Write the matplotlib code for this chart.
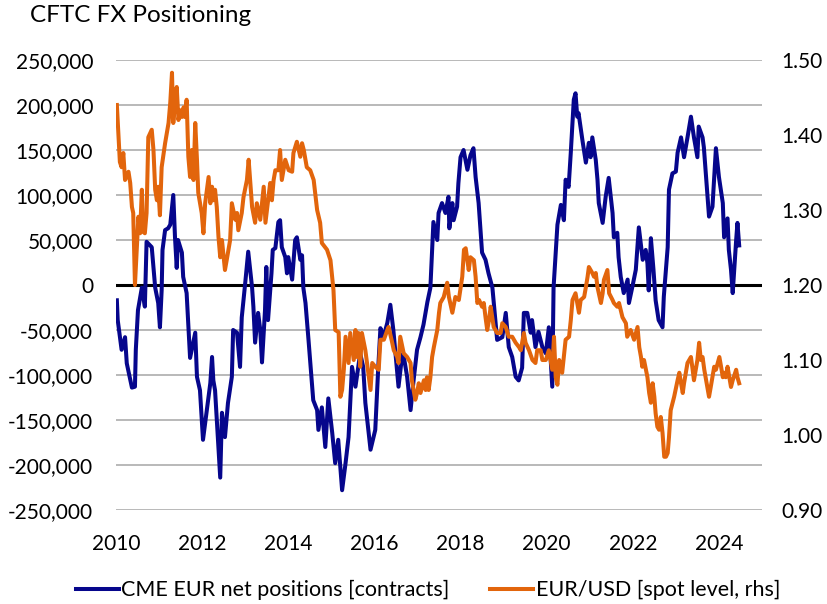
import matplotlib.pyplot as plt
import numpy as np

plt.rcParams["font.family"] = ["Lato", "DejaVu Sans"]

BLUE = "#06068C"
ORANGE = "#E2650C"

# CME EUR net positions (thousand contracts)
pos_years = [
    2010.02, 2010.04, 2010.13, 2010.21, 2010.25, 2010.37, 2010.44, 2010.46, 2010.51, 2010.60,
    2010.67, 2010.71, 2010.83, 2010.91, 2010.98, 2011.02, 2011.06, 2011.08, 2011.14, 2011.21,
    2011.26, 2011.33, 2011.37, 2011.41, 2011.44, 2011.53, 2011.56, 2011.64, 2011.72, 2011.84,
    2011.88, 2011.95, 2012.02, 2012.11, 2012.19, 2012.23, 2012.26, 2012.30, 2012.42, 2012.46,
    2012.53, 2012.60, 2012.69, 2012.72, 2012.81, 2012.88, 2012.92, 2013.00, 2013.07, 2013.16,
    2013.19, 2013.23, 2013.30, 2013.35, 2013.39, 2013.46, 2013.49, 2013.53, 2013.61, 2013.64,
    2013.70, 2013.77, 2013.81, 2013.85, 2013.93, 2013.97, 2014.00, 2014.09, 2014.16, 2014.20,
    2014.28, 2014.32, 2014.35, 2014.40, 2014.47, 2014.58, 2014.67, 2014.70, 2014.78, 2014.86,
    2014.93, 2015.02, 2015.09, 2015.16, 2015.25, 2015.33, 2015.40, 2015.48, 2015.56, 2015.67,
    2015.74, 2015.79, 2015.91, 2016.02, 2016.09, 2016.14, 2016.21, 2016.30, 2016.37, 2016.44,
    2016.56, 2016.64, 2016.67, 2016.76, 2016.84, 2016.91, 2016.99, 2017.07, 2017.14, 2017.23,
    2017.30, 2017.37, 2017.46, 2017.49, 2017.57, 2017.65, 2017.72, 2017.74, 2017.81, 2017.84,
    2017.92, 2017.95, 2018.00, 2018.07, 2018.16, 2018.23, 2018.30, 2018.35, 2018.42, 2018.50,
    2018.58, 2018.65, 2018.74, 2018.85, 2018.97, 2019.05, 2019.12, 2019.20, 2019.28, 2019.35,
    2019.43, 2019.47, 2019.55, 2019.63, 2019.66, 2019.74, 2019.81, 2019.90, 2019.98, 2020.05,
    2020.13, 2020.16, 2020.25, 2020.33, 2020.40, 2020.44, 2020.51, 2020.56, 2020.63, 2020.67,
    2020.71, 2020.74, 2020.83, 2020.91, 2020.98, 2021.02, 2021.06, 2021.14, 2021.18, 2021.21,
    2021.30, 2021.37, 2021.44, 2021.53, 2021.56, 2021.64, 2021.67, 2021.72, 2021.79, 2021.88,
    2021.91, 2021.99, 2022.07, 2022.14, 2022.23, 2022.30, 2022.34, 2022.37, 2022.42, 2022.48,
    2022.53, 2022.60, 2022.69, 2022.72, 2022.81, 2022.84, 2022.92, 2023.00, 2023.04, 2023.12,
    2023.19, 2023.27, 2023.35, 2023.42, 2023.50, 2023.53, 2023.62, 2023.65, 2023.74, 2023.77,
    2023.85, 2023.93, 2024.00, 2024.09, 2024.12, 2024.20, 2024.23, 2024.28, 2024.32, 2024.35,
    2024.40, 2024.43, 2024.47,
]
pos_k = [
    -17, -39, -72, -58, -87, -114, -113, -72, -28, -3,
    -24, 48, 42, -3, -20, -47, -6, 39, 61, 63,
    67, 100, 53, 19, 50, 36, 9, -9, -81, -53,
    -102, -117, -172, -139, -109, -80, -106, -117, -214, -142,
    -169, -131, -102, -50, -53, -91, -36, 2, 37, -3,
    -24, -64, -31, -50, -86, -28, 20, -39, 13, 39,
    41, 70, 72, 42, 31, 13, 31, 6, 50, 53,
    28, 33, -3, -20, -61, -128, -139, -161, -136, -180,
    -126, -164, -198, -172, -228, -198, -169, -91, -113, -76,
    -91, -131, -183, -161, -91, -48, -58, -42, -22, -50,
    -113, -80, -76, -102, -139, -106, -72, -58, -44, -19,
    -3, 70, 50, 80, 91, 80, 98, 63, 91, 72,
    87, 113, 142, 150, 128, 144, 152, 120, 91, 36,
    28, 13, -3, -61, -58, -31, -69, -80, -102, -106,
    -92, -31, -31, -53, -39, -69, -52, -69, -76, -47,
    -113, -3, 67, 89, 72, 117, 109, 147, 206, 213,
    187, 191, 161, 136, 158, 142, 164, 139, 117, 91,
    69, 98, 119, 80, 53, 58, 31, 9, -9, 6,
    -20, -2, 17, 64, 28, 39, 24, -6, 52, 17,
    -17, -39, -47, -13, 42, 106, 124, 126, 147, 164,
    142, 164, 187, 164, 142, 176, 164, 153, 94, 76,
    87, 152, 120, 91, 53, 74, 39, 17, -9, 13,
    50, 69, 44,
]

# EUR/USD spot level (rhs)
fx_years = [
    2010.02, 2010.09, 2010.13, 2010.17, 2010.21, 2010.29, 2010.33, 2010.37, 2010.40, 2010.44,
    2010.52, 2010.56, 2010.60, 2010.63, 2010.67, 2010.71, 2010.75, 2010.83, 2010.87, 2010.91,
    2010.95, 2010.98, 2011.02, 2011.06, 2011.14, 2011.22, 2011.26, 2011.30, 2011.33, 2011.37,
    2011.41, 2011.45, 2011.49, 2011.53, 2011.57, 2011.60, 2011.64, 2011.68, 2011.72, 2011.76,
    2011.80, 2011.84, 2011.88, 2011.91, 2011.99, 2012.03, 2012.07, 2012.15, 2012.19, 2012.23,
    2012.26, 2012.30, 2012.34, 2012.38, 2012.42, 2012.46, 2012.53, 2012.57, 2012.65, 2012.69,
    2012.77, 2012.81, 2012.84, 2012.92, 2012.96, 2013.04, 2013.08, 2013.12, 2013.16, 2013.23,
    2013.27, 2013.35, 2013.39, 2013.43, 2013.47, 2013.54, 2013.58, 2013.62, 2013.66, 2013.70,
    2013.77, 2013.81, 2013.85, 2013.93, 2014.01, 2014.09, 2014.12, 2014.20, 2014.28, 2014.32,
    2014.36, 2014.43, 2014.51, 2014.59, 2014.67, 2014.74, 2014.78, 2014.90, 2014.98, 2015.05,
    2015.09, 2015.17, 2015.21, 2015.25, 2015.29, 2015.33, 2015.40, 2015.44, 2015.52, 2015.56,
    2015.60, 2015.63, 2015.67, 2015.71, 2015.79, 2015.87, 2015.91, 2015.95, 2016.02, 2016.10,
    2016.14, 2016.22, 2016.30, 2016.33, 2016.41, 2016.45, 2016.53, 2016.56, 2016.60, 2016.68,
    2016.76, 2016.84, 2016.87, 2016.95, 2016.99, 2017.03, 2017.07, 2017.15, 2017.19, 2017.22,
    2017.26, 2017.30, 2017.34, 2017.38, 2017.46, 2017.50, 2017.53, 2017.61, 2017.69, 2017.73,
    2017.81, 2017.88, 2017.96, 2018.04, 2018.08, 2018.12, 2018.16, 2018.19, 2018.23, 2018.31,
    2018.35, 2018.39, 2018.43, 2018.50, 2018.54, 2018.58, 2018.62, 2018.66, 2018.70, 2018.77,
    2018.85, 2018.93, 2018.97, 2019.05, 2019.12, 2019.20, 2019.28, 2019.36, 2019.40, 2019.47,
    2019.51, 2019.59, 2019.67, 2019.74, 2019.78, 2019.86, 2019.90, 2019.98, 2020.05, 2020.13,
    2020.17, 2020.21, 2020.25, 2020.29, 2020.36, 2020.44, 2020.52, 2020.56, 2020.60, 2020.67,
    2020.71, 2020.75, 2020.79, 2020.87, 2020.91, 2020.95, 2020.98, 2021.06, 2021.10, 2021.14,
    2021.18, 2021.26, 2021.30, 2021.33, 2021.41, 2021.45, 2021.53, 2021.56, 2021.64, 2021.68,
    2021.76, 2021.84, 2021.87, 2021.95, 2022.03, 2022.11, 2022.15, 2022.19, 2022.22, 2022.26,
    2022.34, 2022.38, 2022.42, 2022.46, 2022.50, 2022.53, 2022.57, 2022.61, 2022.65, 2022.69,
    2022.73, 2022.77, 2022.81, 2022.84, 2022.88, 2022.96, 2023.04, 2023.08, 2023.12, 2023.16,
    2023.19, 2023.27, 2023.35, 2023.39, 2023.42, 2023.50, 2023.54, 2023.58, 2023.62, 2023.66,
    2023.73, 2023.77, 2023.81, 2023.89, 2023.93, 2024.01, 2024.05, 2024.09, 2024.12, 2024.16,
    2024.20, 2024.28, 2024.32, 2024.40, 2024.43, 2024.47,
]
fx_level = [
    1.440, 1.364, 1.357, 1.376, 1.340, 1.351, 1.336, 1.304, 1.296, 1.200,
    1.291, 1.269, 1.327, 1.271, 1.269, 1.296, 1.397, 1.407, 1.380, 1.327,
    1.313, 1.331, 1.293, 1.357, 1.389, 1.416, 1.443, 1.483, 1.416, 1.443,
    1.464, 1.420, 1.433, 1.424, 1.437, 1.424, 1.447, 1.371, 1.344, 1.380,
    1.340, 1.416, 1.367, 1.323, 1.296, 1.269, 1.309, 1.344, 1.309, 1.331,
    1.313, 1.327, 1.304, 1.264, 1.237, 1.260, 1.220, 1.233, 1.260, 1.309,
    1.287, 1.296, 1.273, 1.296, 1.317, 1.340, 1.367, 1.336, 1.304, 1.283,
    1.309, 1.287, 1.309, 1.331, 1.283, 1.317, 1.336, 1.313, 1.340, 1.353,
    1.353, 1.380, 1.340, 1.367, 1.353, 1.351, 1.376, 1.391, 1.371, 1.389,
    1.380, 1.357, 1.353, 1.340, 1.300, 1.283, 1.256, 1.247, 1.233, 1.193,
    1.140, 1.137, 1.051, 1.060, 1.087, 1.131, 1.096, 1.136, 1.100, 1.140,
    1.104, 1.136, 1.091, 1.136, 1.113, 1.077, 1.060, 1.096, 1.091, 1.087,
    1.127, 1.127, 1.140, 1.144, 1.124, 1.113, 1.104, 1.096, 1.131, 1.109,
    1.104, 1.096, 1.073, 1.047, 1.056, 1.069, 1.056, 1.073, 1.060, 1.077,
    1.060, 1.077, 1.104, 1.117, 1.140, 1.163, 1.176, 1.184, 1.203, 1.184,
    1.163, 1.184, 1.180, 1.211, 1.247, 1.249, 1.233, 1.220, 1.237, 1.233,
    1.211, 1.176, 1.180, 1.171, 1.176, 1.157, 1.140, 1.153, 1.171, 1.144,
    1.136, 1.136, 1.149, 1.144, 1.131, 1.131, 1.123, 1.117, 1.113, 1.136,
    1.123, 1.113, 1.100, 1.096, 1.113, 1.113, 1.100, 1.100, 1.113, 1.087,
    1.131, 1.077, 1.067, 1.100, 1.083, 1.127, 1.131, 1.153, 1.180, 1.189,
    1.176, 1.163, 1.180, 1.184, 1.197, 1.211, 1.224, 1.216, 1.211, 1.216,
    1.197, 1.176, 1.189, 1.207, 1.220, 1.189, 1.180, 1.176, 1.171, 1.176,
    1.157, 1.149, 1.131, 1.140, 1.127, 1.144, 1.117, 1.104, 1.091, 1.100,
    1.077, 1.056, 1.043, 1.069, 1.051, 1.029, 1.011, 1.007, 1.024, 1.003,
    0.971, 0.971, 0.976, 0.997, 1.033, 1.051, 1.073, 1.083, 1.069, 1.056,
    1.069, 1.096, 1.104, 1.087, 1.073, 1.100, 1.123, 1.100, 1.104, 1.087,
    1.064, 1.051, 1.064, 1.091, 1.087, 1.104, 1.091, 1.077, 1.083, 1.077,
    1.091, 1.064, 1.073, 1.087, 1.077, 1.069,
]

year_ticks = [2010, 2012, 2014, 2016, 2018, 2020, 2022, 2024]
left_ticks = list(range(-250000, 250001, 50000))
right_ticks = [0.90, 1.00, 1.10, 1.20, 1.30, 1.40, 1.50]

fig = plt.figure(figsize=(8.27, 6.04), dpi=100)
fig.patch.set_facecolor("white")
ax = fig.add_axes([116 / 827, 1 - 510 / 604, 646 / 827, 450 / 604])

ax.plot(pos_years, np.array(pos_k) * 1000, color=BLUE, lw=2.9, zorder=3,
        solid_joinstyle="round", label="CME EUR net positions [contracts]")
ax.axhline(0, color="black", lw=2.2, zorder=2)

ax.set_xlim(2010, 2025)
ax.set_ylim(-250000, 250000)
ax.set_xticks(year_ticks)
ax.set_xticklabels([str(y) for y in year_ticks])
ax.set_yticks(left_ticks)
ax.set_yticklabels([f"{v:,.0f}" for v in left_ticks])
ax.yaxis.grid(True, color="#A6A6A6", lw=1.1)
ax.set_axisbelow(True)
ax.tick_params(axis="y", length=0, pad=16.5, labelsize=15)
ax.tick_params(axis="x", length=0, pad=17, labelsize=15)
for spine in ax.spines.values():
    spine.set_visible(False)

ax2 = ax.twinx()
ax2.plot(fx_years, fx_level, color=ORANGE, lw=2.9, zorder=3,
         solid_joinstyle="round", label="EUR/USD [spot level, rhs]")
ax2.set_ylim(0.90, 1.50)
ax2.set_yticks(right_ticks)
ax2.set_yticklabels([f"{v:.2f}" for v in right_ticks])
ax2.tick_params(axis="y", length=0, pad=14, labelsize=15)
for spine in ax2.spines.values():
    spine.set_visible(False)

fig.text(30 / 827, 1 - 16 / 604, "CFTC FX Positioning", fontsize=17.5,
         ha="left", va="center")

h1, l1 = ax.get_legend_handles_labels()
h2, l2 = ax2.get_legend_handles_labels()
fig.legend(h1 + h2, l1 + l2, loc="center", bbox_to_anchor=(428 / 827, 1 - 590 / 604),
           ncol=2, frameon=False, fontsize=15.5, handlelength=2.0,
           handletextpad=0.1, columnspacing=1.9)

fig.savefig("out.png", dpi=100, facecolor="white")
